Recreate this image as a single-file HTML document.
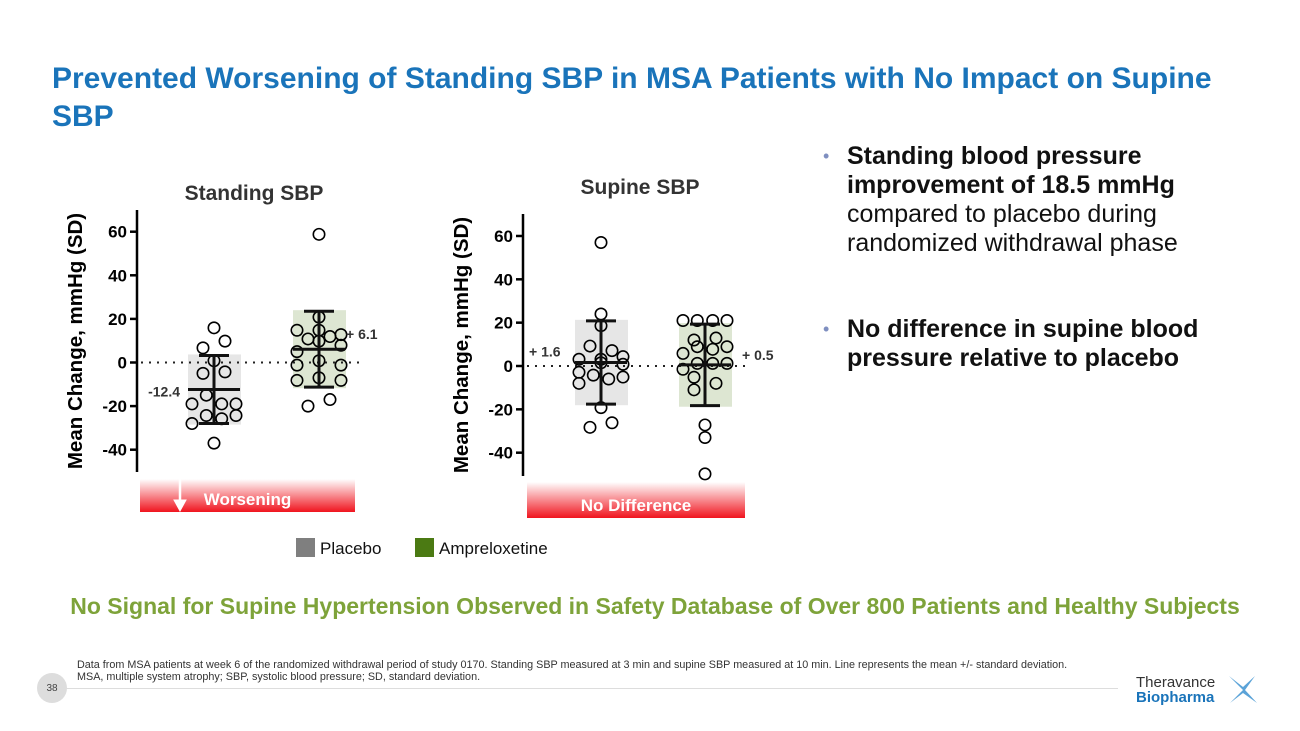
<!DOCTYPE html>
<html><head><meta charset="utf-8"><style>
body{margin:0;width:1300px;height:731px;background:#fff;font-family:"Liberation Sans",sans-serif;overflow:hidden;position:relative}
.abs{position:absolute}
</style></head><body>
<div class="abs" style="left:52px;top:60px;width:1200px;font-size:30px;font-weight:bold;color:#1a74ba;line-height:38px">Prevented Worsening of Standing SBP in MSA Patients with No Impact on Supine SBP</div>
<div class="abs" style="left:823px;top:142px;font-size:25px;line-height:29px;color:#111;width:460px">
<span style="color:#7f8fc0;position:absolute;left:0;font-size:18px">•</span>
<div style="margin-left:24px"><b>Standing blood pressure improvement of 18.5 mmHg</b> compared to placebo during randomized withdrawal phase</div></div>
<div class="abs" style="left:823px;top:315px;font-size:25px;line-height:29px;color:#111;width:420px">
<span style="color:#7f8fc0;position:absolute;left:0;font-size:18px">•</span>
<div style="margin-left:24px"><b>No difference in supine blood pressure relative to placebo</b></div></div>
<div class="abs" style="left:0;width:1310px;text-align:center;top:593px;font-size:23px;font-weight:bold;color:#7ea33a">No Signal for Supine Hypertension Observed in Safety Database of Over 800 Patients and Healthy Subjects</div>
<div class="abs" style="left:77px;top:659px;font-size:10.8px;line-height:12px;color:#333">Data from MSA patients at week 6 of the randomized withdrawal period of study 0170. Standing SBP measured at 3 min and supine SBP measured at 10 min. Line represents the mean +/- standard deviation.<br>MSA, multiple system atrophy; SBP, systolic blood pressure; SD, standard deviation.</div>
<div class="abs" style="left:66px;top:688px;width:1052px;height:1px;background:#ddd"></div>
<div class="abs" style="left:37px;top:673px;width:30px;height:30px;border-radius:50%;background:#ddd;color:#444;font-size:10px;text-align:center;line-height:32px">38</div>
<div class="abs" style="left:1136px;top:675px;font-size:15px;line-height:15px">
<div style="color:#333">Theravance</div><div style="color:#1a74ba;font-weight:bold">Biopharma</div></div>
<svg class="abs" style="left:1225px;top:673px" width="36" height="34"><path d="M18 17 L4 3 L18 14 L30 3 L20 17 L32 30 L18 20 L5 30Z" fill="#5ba3d8"/></svg>
<svg class="abs" style="left:0;top:0" width="1300" height="731" id="chart">
<defs><linearGradient id="rg" x1="0" y1="0" x2="0" y2="1"><stop offset="0" stop-color="#fff"/><stop offset="1" stop-color="#f0141e"/></linearGradient></defs>
</svg>
<script>
const categories=["Placebo","Ampreloxetine"];
const yTicks=[60,40,20,0,-20,-40];
const standPlaceboPts=[[0,15.9],[-1,6.7],[1,9.8],[0,0.8],[-1,-5],[1,-4.3],[-0.7,-15],[-2,-19],[0.7,-19],[2,-19],[-0.7,-24.3],[0.7,-25.8],[2,-24.3],[-2,-28],[0,-37]];
const standAmpPts=[[0,20.8],[-2,14.8],[0,14.8],[-1,10.8],[1,11.9],[2,12.8],[0,9.8],[-2,5],[2,7.9],[-2,-1.2],[0,0.8],[2,-1.2],[-2,-8.2],[0,-7],[2,-8.2],[-1,-20],[1,-17],[0,58.8]];
const standMean=[-12.4,6.1];
const standSD=[15.6,17.4];
const standMeanLabels=["-12.4","+ 6.1"];
const supPlaceboPts=[[0,57],[0,24],[0,18.6],[-1,9.2],[1,7.1],[-2,3.1],[0,3.1],[2,4.3],[0,1.5],[2,0.8],[-2,-2.9],[-0.7,-4.2],[0.7,-6],[2,-5.1],[-2,-8],[0,-19.2],[-1,-28.3],[1,-26.2]];
const supAmpPts=[[-2,21],[-0.7,21],[0.7,21],[2,21],[-1,12],[1,12.9],[-0.7,8.9],[0.7,7.7],[2,8.9],[-2,5.8],[-2,-1.5],[-0.7,1.2],[0.7,1.2],[2,1.2],[-1,-5.2],[-1,-11],[1,-8],[0,-27.2],[0,-33],[0,-49.8]];
const supMean=[1.6,0.5];
const supSD=[19.2,18.8];
const supMeanLabels=["+ 1.6","+ 0.5"];
const svg=document.getElementById('chart');
const NS='http://www.w3.org/2000/svg';
function mk(t,a,p){const e=document.createElementNS(NS,t);for(const k in a)e.setAttribute(k,a[k]);(p||svg).appendChild(e);return e;}
function chart(o){
 const y=v=>o.y0-v*o.k;
 const g=mk('g',{});
 
 
 const t=mk('text',{x:o.tx,y:o.ty,'font-size':21,'font-weight':'bold',fill:'#333','text-anchor':'middle'},g);t.textContent=o.title;
 
 const ax=mk('line',{x1:o.ax,x2:o.ax,y1:o.top,y2:o.bot,stroke:'#000','stroke-width':2.5},g);
 
 yTicks.forEach(v=>{mk('line',{x1:o.ax-7,x2:o.ax,y1:y(v),y2:y(v),stroke:'#000','stroke-width':2.5},g);
  const l=mk('text',{x:o.ax-10,y:y(v)+6,'font-size':17,'font-weight':'bold','text-anchor':'end'},g);l.textContent=v;
  });
 const yt=mk('text',{transform:`translate(${o.ax-55},${(o.top+o.bot)/2}) rotate(-90)`,'font-size':20.5,'font-weight':'bold','text-anchor':'middle'},g);yt.textContent='Mean Change, mmHg (SD)';
 
 const fills=['#e6e6e6','#dde6d2'];
 o.means.forEach((m,i)=>{const cx=o.cx[i];
  const b=mk('rect',{x:cx-26,y:y(m+o.sd[i]+0.5),width:53,height:(2*o.sd[i]+1)*o.k,fill:fills[i]},g);
  });
 mk('line',{x1:o.ax+4,x2:o.cx[1]+42,y1:y(0),y2:y(0),stroke:'#222','stroke-width':2,'stroke-dasharray':'2 6'},g);
 [o.p0,o.p1].forEach((pts,i)=>pts.forEach(p=>{const c=mk('circle',{cx:o.cx[i]+p[0]*11,cy:y(p[1]),r:5.7,fill:'none',stroke:'#000','stroke-width':1.6},g);
  }));
 o.means.forEach((m,i)=>{const cx=o.cx[i],hi=y(m+o.sd[i]),lo=y(m-o.sd[i]);
  const eb=mk('g',{stroke:'#111','stroke-width':3},g);
  
  mk('line',{x1:cx,x2:cx,y1:hi,y2:lo},eb);
  mk('line',{x1:cx-15,x2:cx+15,y1:hi,y2:hi},eb);
  mk('line',{x1:cx-15,x2:cx+15,y1:lo,y2:lo},eb);
  mk('line',{x1:cx-26,x2:cx+26,y1:y(m),y2:y(m)},eb);
  const ml=mk('text',{x:o.lx[i],y:y(m)+o.ly[i],'font-size':14,'font-weight':'bold',fill:'#333','text-anchor':o.la[i]},g);ml.textContent=o.labels[i];
  });
 const r=mk('rect',{x:o.rx,y:o.ry,width:o.rw,height:o.rh,fill:'url(#rg)'},g);
 
 const rt=mk('text',{x:o.rx+o.rw/2,y:o.ry+o.rh-7,'font-size':17,'font-weight':'bold',fill:'#fff','text-anchor':'middle'},g);rt.textContent=o.band;
 return g;
}
chart({name:'standing-chart',title:'Standing SBP',tx:254,ty:200,ax:137,top:210,bot:472,y0:362.5,k:2.18,cx:[214,319],
 p0:standPlaceboPts,p1:standAmpPts,means:standMean,sd:standSD,labels:standMeanLabels,lx:[180,346],ly:[7,-10],la:['end','start'],
 rx:140,ry:479,rw:215,rh:33,band:'Worsening'});
chart({name:'supine-chart',title:'Supine SBP',tx:640,ty:194,ax:523,top:214,bot:476,y0:366,k:2.167,cx:[601,705],
 p0:supPlaceboPts,p1:supAmpPts,means:supMean,sd:supSD,labels:supMeanLabels,lx:[529,742],ly:[-6,-5],la:['start','start'],
 rx:527,ry:482,rw:218,rh:36,band:'No Difference'});
const ar=mk('g',{fill:'#fff',stroke:'#fff'});

mk('line',{x1:180,x2:180,y1:477,y2:503,'stroke-width':2.5},ar);
mk('path',{d:'M174 500 L186 500 L180 511Z'},ar);
const leg=[['#7f7f7f','Placebo',296],['#4b7a13','Ampreloxetine',415]];
leg.forEach(l=>{const g=mk('g',{});
 
 mk('rect',{x:l[2],y:538,width:19,height:19,fill:l[0]},g);
 const t=mk('text',{x:l[2]+24,y:554,'font-size':17,fill:'#111'},g);t.textContent=l[1];});
</script>
</body></html>
